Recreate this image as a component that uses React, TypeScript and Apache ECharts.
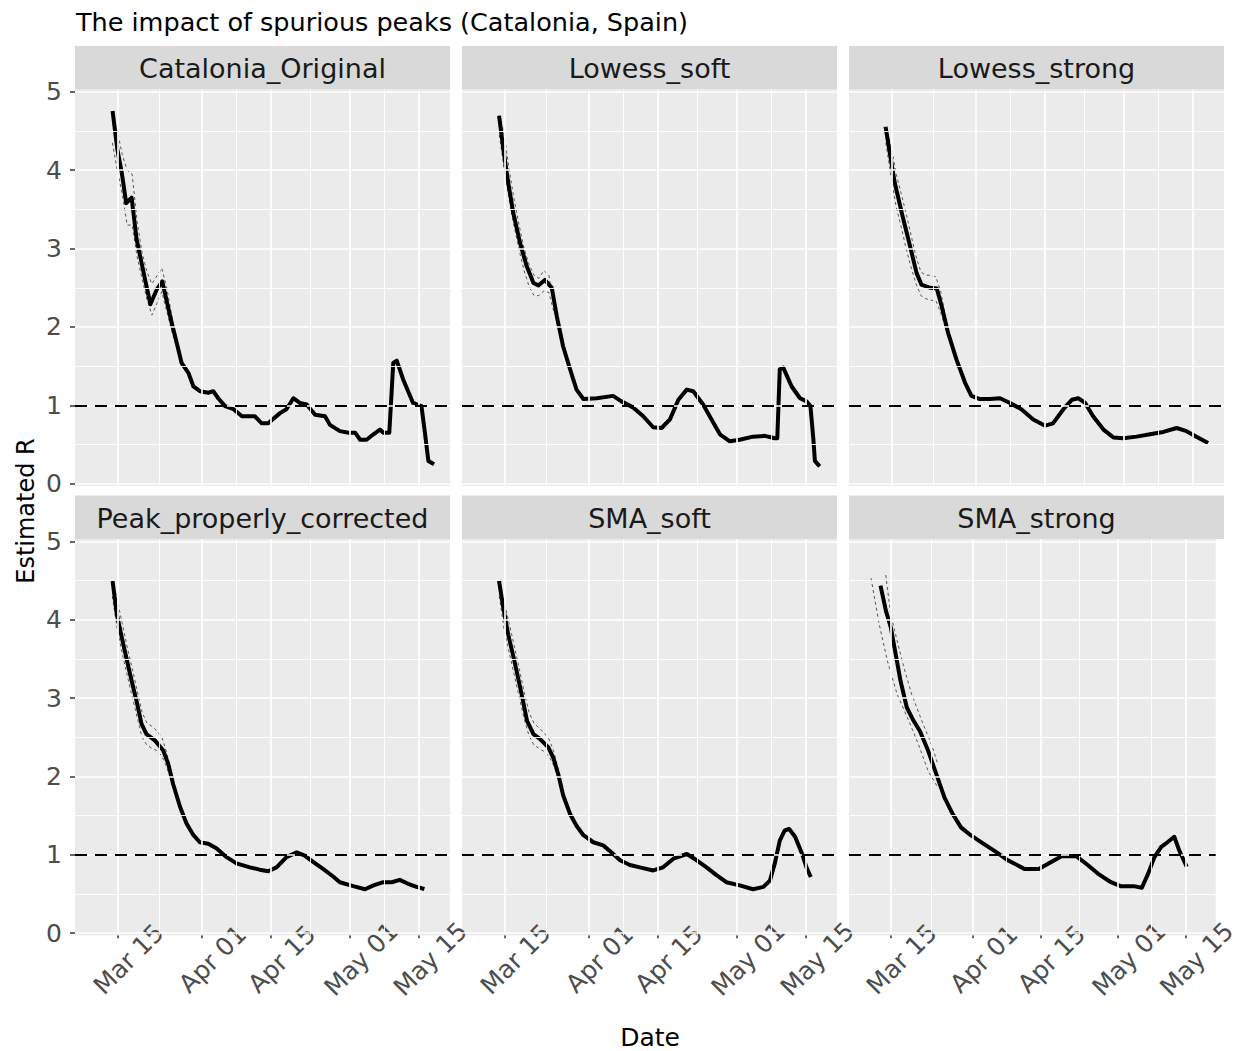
import { useEffect, useRef } from "react";
import * as echarts from "echarts";

// Day numbers: Mar 1 = 1, Apr 1 = 32, May 1 = 62
const panelNames = ["Catalonia_Original", "Lowess_soft", "Lowess_strong", "Peak_properly_corrected", "SMA_soft", "SMA_strong"];
const xTickDays = [15, 32, 46, 62, 76];
const xTickLabels = ["Mar 15", "Apr 01", "Apr 15", "May 01", "May 15"];
const xMinorDays = [23.5, 39, 54, 69];
const yTicks = [0, 1, 2, 3, 4, 5];
const yMinor = [0.5, 1.5, 2.5, 3.5, 4.5];
const referenceR = 1;

const origDays = [14.1, 15, 15.9, 16.8, 17.9, 18.9, 19.9, 20.9, 21.7, 23, 24.1, 25, 26, 27, 28, 29.4, 30.4, 31.7, 33.4, 34.4, 35.4, 36.8, 38.5, 40.2, 42.8, 44.2, 45.5, 47.9, 49.2, 50.6, 51.9, 53.3, 55, 57, 58, 60, 61.8, 63.1, 64.1, 65.4, 66.8, 68.1, 68.8, 70, 70.8, 71.5, 72.8, 74.8, 76.5, 77.2, 77.9, 78.7];
const origR = [4.73, 4.27, 3.97, 3.58, 3.65, 3.12, 2.82, 2.52, 2.29, 2.48, 2.58, 2.33, 2.05, 1.8, 1.54, 1.41, 1.24, 1.18, 1.16, 1.18, 1.09, 0.99, 0.95, 0.86, 0.86, 0.77, 0.77, 0.9, 0.95, 1.09, 1.03, 1.01, 0.88, 0.86, 0.75, 0.67, 0.65, 0.65, 0.56, 0.56, 0.63, 0.69, 0.65, 0.65, 1.54, 1.57, 1.33, 1.03, 0.99, 0.65, 0.29, 0.26];
const origCiDays = [14, 15, 16, 17, 18, 19, 20, 21, 22, 23, 24, 25, 26, 27, 28];
const origHi = [4.75, 4.5, 4.2, 4.0, 3.95, 3.35, 2.95, 2.7, 2.55, 2.65, 2.75, 2.5, 2.15, 1.86, 1.58];
const origLo = [4.35, 4.0, 3.7, 3.3, 3.3, 2.9, 2.62, 2.35, 2.15, 2.3, 2.45, 2.2, 1.95, 1.74, 1.5];

const lsoftDays = [14, 14.8, 15.8, 16.8, 18.2, 19.5, 20.9, 21.9, 23.2, 24.6, 25.6, 26.9, 28.3, 29.6, 31, 33.7, 37, 38.7, 41.1, 43.1, 45.1, 46.8, 48.5, 50.2, 51.9, 53.2, 55.2, 56.9, 58.6, 60.6, 62.6, 65.3, 67.7, 69.7, 70.2, 70.7, 71.4, 73.1, 74.8, 76.1, 76.9, 77.5, 77.8, 78.5];
const lsoftR = [4.67, 4.27, 3.84, 3.46, 3.07, 2.78, 2.56, 2.53, 2.6, 2.5, 2.14, 1.75, 1.46, 1.2, 1.08, 1.09, 1.12, 1.05, 0.97, 0.86, 0.72, 0.71, 0.82, 1.07, 1.2, 1.18, 1.01, 0.82, 0.63, 0.54, 0.56, 0.6, 0.61, 0.58, 0.58, 1.46, 1.48, 1.24, 1.09, 1.05, 0.99, 0.56, 0.29, 0.24];
const lsoftCiDays = [14, 15, 16, 17, 18, 19, 20, 21, 22, 23, 24, 25];
const lsoftHi = [4.7, 4.45, 4.0, 3.62, 3.3, 3.0, 2.8, 2.66, 2.62, 2.72, 2.66, 2.3];
const lsoftLo = [4.45, 4.0, 3.62, 3.28, 2.98, 2.72, 2.52, 2.4, 2.4, 2.46, 2.44, 2.2];

const lstrongDays = [13.9, 14.7, 15.7, 17.1, 18.8, 20.1, 21.1, 22.8, 24.2, 25.2, 26.5, 28.2, 29.9, 31.2, 32.9, 34.9, 37, 39, 41.3, 43.7, 46.1, 47.7, 49.8, 51.5, 52.8, 54.2, 55.8, 57.9, 59.9, 61.9, 64.6, 67.3, 70, 72.7, 74.7, 76.7, 78.7];
const lstrongR = [4.53, 4.22, 3.84, 3.46, 3.03, 2.69, 2.54, 2.5, 2.49, 2.26, 1.92, 1.58, 1.29, 1.12, 1.08, 1.08, 1.09, 1.03, 0.95, 0.82, 0.74, 0.77, 0.95, 1.07, 1.09, 1.03, 0.86, 0.69, 0.59, 0.58, 0.6, 0.63, 0.66, 0.71, 0.67, 0.6, 0.53];
const lstrongCiDays = [13.9, 15, 16, 17, 18, 19, 20, 21, 22, 23, 24, 25, 26];
const lstrongHi = [4.55, 4.3, 3.95, 3.7, 3.45, 3.17, 2.9, 2.7, 2.66, 2.66, 2.64, 2.45, 2.12];
const lstrongLo = [4.35, 3.9, 3.53, 3.28, 3.0, 2.76, 2.55, 2.4, 2.36, 2.34, 2.34, 2.18, 1.98];

const peakDays = [14.1, 14.9, 16.2, 17.6, 18.9, 19.9, 20.9, 22.6, 24.3, 25.3, 26.3, 27.7, 29, 30.4, 31.7, 33.4, 35.1, 37.1, 39.1, 41.8, 43.8, 45.5, 47.2, 49.2, 51.3, 52.9, 54.6, 56.6, 58.7, 60, 62.7, 65.1, 66.8, 68.8, 70.5, 72.1, 73.8, 75.5, 76.7];
const peakR = [4.47, 4.07, 3.69, 3.3, 2.96, 2.67, 2.54, 2.46, 2.33, 2.16, 1.9, 1.61, 1.4, 1.25, 1.16, 1.14, 1.08, 0.97, 0.89, 0.84, 0.81, 0.79, 0.84, 0.97, 1.03, 0.99, 0.91, 0.82, 0.72, 0.65, 0.6, 0.56, 0.61, 0.65, 0.65, 0.68, 0.63, 0.59, 0.57];
const peakCiDays = [14, 15, 16, 17, 18, 19, 20, 21, 22, 23, 24, 25, 26];
const peakHi = [4.5, 4.25, 3.95, 3.65, 3.38, 3.1, 2.82, 2.68, 2.64, 2.58, 2.5, 2.3, 2.04];
const peakLo = [4.3, 3.88, 3.57, 3.29, 3.02, 2.76, 2.5, 2.4, 2.36, 2.33, 2.26, 2.12, 1.92];

const ssoftDays = [14, 14.8, 15.8, 17.2, 18.5, 19.6, 20.9, 22.2, 23.9, 24.9, 25.9, 26.9, 28.3, 29.6, 31, 33, 35, 36.7, 38.4, 40.4, 42.4, 45.1, 47.1, 49.2, 51.9, 53.9, 55.9, 57.9, 59.9, 62.6, 65.3, 67.4, 68.7, 69.7, 70.7, 71.7, 72.6, 73.8, 75.1, 76.1, 76.8];
const ssoftR = [4.47, 4.15, 3.81, 3.43, 3.05, 2.71, 2.54, 2.48, 2.37, 2.24, 2.03, 1.76, 1.52, 1.37, 1.25, 1.16, 1.12, 1.03, 0.93, 0.87, 0.84, 0.8, 0.84, 0.95, 1.01, 0.93, 0.84, 0.74, 0.65, 0.61, 0.56, 0.59, 0.67, 0.89, 1.18, 1.31, 1.33, 1.23, 1.03, 0.84, 0.74];
const ssoftCiDays = [14, 15, 16, 17, 18, 19, 20, 21, 22, 23, 24, 25, 26];
const ssoftHi = [4.5, 4.22, 3.95, 3.67, 3.38, 3.08, 2.82, 2.68, 2.62, 2.56, 2.48, 2.32, 2.07];
const ssoftLo = [4.3, 3.86, 3.58, 3.3, 3.02, 2.74, 2.52, 2.4, 2.36, 2.32, 2.26, 2.14, 1.96];

const sstrongDays = [13.05, 14.1, 15.1, 16.1, 17.1, 18.4, 19.8, 21.1, 22.8, 24.5, 26.2, 27.9, 29.6, 31.6, 34.3, 37, 39.3, 42.7, 45.7, 47.7, 50.4, 53.5, 55.8, 57.9, 60.6, 62.6, 65.3, 67, 68.3, 69.6, 71, 72.3, 73.7, 74.7, 76.1];
const sstrongR = [4.41, 4.11, 3.9, 3.56, 3.22, 2.88, 2.71, 2.58, 2.33, 2.03, 1.73, 1.52, 1.35, 1.25, 1.14, 1.03, 0.93, 0.82, 0.82, 0.89, 0.98, 0.98, 0.87, 0.76, 0.65, 0.6, 0.6, 0.58, 0.76, 0.97, 1.1, 1.16, 1.23, 1.06, 0.87];
const sstrongHiDays = [14.05, 15.07, 16.4, 17.8, 19.4, 21.5, 23.5, 24.8];
const sstrongHi = [4.57, 4.07, 3.73, 3.39, 3.05, 2.71, 2.41, 2.16];
const sstrongLoDays = [11, 12.7, 14.4, 16.4, 18.8, 20.8, 22.8, 24.8];
const sstrongLo = [4.53, 3.94, 3.47, 3.05, 2.71, 2.41, 2.07, 1.86];

const panels = [
  { name: panelNames[0], days: origDays, r: origR, hiDays: origCiDays, hi: origHi, loDays: origCiDays, lo: origLo },
  { name: panelNames[1], days: lsoftDays, r: lsoftR, hiDays: lsoftCiDays, hi: lsoftHi, loDays: lsoftCiDays, lo: lsoftLo },
  { name: panelNames[2], days: lstrongDays, r: lstrongR, hiDays: lstrongCiDays, hi: lstrongHi, loDays: lstrongCiDays, lo: lstrongLo },
  { name: panelNames[3], days: peakDays, r: peakR, hiDays: peakCiDays, hi: peakHi, loDays: peakCiDays, lo: peakLo },
  { name: panelNames[4], days: ssoftDays, r: ssoftR, hiDays: ssoftCiDays, hi: ssoftHi, loDays: ssoftCiDays, lo: ssoftLo },
  { name: panelNames[5], days: sstrongDays, r: sstrongR, hiDays: sstrongHiDays, hi: sstrongHi, loDays: sstrongLoDays, lo: sstrongLo },
];

const zip = (a: number[], b: number[]) => a.map((d, i) => [d, b[i]]);

const FONT = "DejaVu Sans";
const colLefts = [75, 462, 849];
const panelW = 375;
const rowTops = [89.5, 539];
const panelH = 396.5;
const stripH = 43.5;
const xMin = 6.45;
const xMax = 82.27;
const yMin = -0.03;
const yMax = 5.03;

export default function App() {
  const ref = useRef<HTMLDivElement>(null);
  useEffect(() => {
    const chart = echarts.init(ref.current as HTMLDivElement, null, { renderer: "svg" });
    const grids: any[] = [];
    const xAxes: any[] = [];
    const yAxes: any[] = [];
    const series: any[] = [];
    const graphics: any[] = [];

    const gridLines = [
      ...xMinorDays.map((d) => ({ xAxis: d, lineStyle: { width: 0.9 } })),
      ...yMinor.map((v) => ({ yAxis: v, lineStyle: { width: 0.9 } })),
      ...xTickDays.map((d) => ({ xAxis: d, lineStyle: { width: 1.7 } })),
      ...yTicks.map((v) => ({ yAxis: v, lineStyle: { width: 1.7 } })),
    ];

    panels.forEach((p, i) => {
      const col = i % 3;
      const row = Math.floor(i / 3);
      const left = colLefts[col];
      const top = rowTops[row];
      grids.push({ left, top, width: panelW, height: panelH, show: true, backgroundColor: "#EBEBEB", borderWidth: 0 });
      xAxes.push({
        type: "value",
        gridIndex: i,
        min: xMin,
        max: xMax,
        axisLine: { show: false },
        splitLine: { show: false },
        axisTick: { show: row === 1, customValues: xTickDays, length: 5, lineStyle: { color: "#333333", width: 1.5 } },
        axisLabel: {
          show: row === 1,
          customValues: xTickDays,
          rotate: 45,
          align: "center",
          verticalAlign: "middle",
          margin: 35,
          padding: [0, 0, 0, 32],
          color: "#4D4D4D",
          fontSize: 25,
          fontFamily: FONT,
          formatter: (v: number) => {
            const k = xTickDays.indexOf(Math.round(v));
            return k >= 0 ? xTickLabels[k] : "";
          },
        },
      });
      yAxes.push({
        type: "value",
        gridIndex: i,
        min: yMin,
        max: yMax,
        axisLine: { show: false },
        splitLine: { show: false },
        axisTick: { show: col === 0, customValues: yTicks, length: 5, lineStyle: { color: "#333333", width: 1.5 } },
        axisLabel: {
          show: col === 0,
          customValues: yTicks,
          margin: 13,
          color: "#4D4D4D",
          fontSize: 25,
          fontFamily: FONT,
          formatter: (v: number) => String(Math.round(v)),
        },
      });
      const data = zip(p.days, p.r);
      series.push({
        type: "line",
        xAxisIndex: i,
        yAxisIndex: i,
        data,
        showSymbol: false,
        silent: true,
        lineStyle: { opacity: 0, width: 0 },
        markLine: { silent: true, symbol: ["none", "none"], label: { show: false }, lineStyle: { color: "#FFFFFF", type: "solid" }, data: gridLines },
      });
      series.push({
        type: "line",
        xAxisIndex: i,
        yAxisIndex: i,
        data: zip(p.loDays, p.lo),
        showSymbol: false,
        silent: true,
        lineStyle: { color: "#555555", width: 1, type: [3, 3] },
      });
      series.push({
        type: "line",
        xAxisIndex: i,
        yAxisIndex: i,
        data: zip(p.hiDays, p.hi),
        showSymbol: false,
        silent: true,
        lineStyle: { color: "#555555", width: 1, type: [3, 3] },
      });
      series.push({
        type: "line",
        name: p.name,
        xAxisIndex: i,
        yAxisIndex: i,
        data,
        showSymbol: false,
        silent: true,
        lineStyle: { color: "#000000", width: 4, join: "round", cap: "square" },
        markLine: {
          silent: true,
          symbol: ["none", "none"],
          label: { show: false },
          lineStyle: { color: "#000000", width: 2.2, type: [12, 8] },
          data: [{ yAxis: referenceR }],
        },
      });
      graphics.push({
        type: "rect",
        shape: { x: left, y: top - stripH, width: panelW, height: stripH },
        style: { fill: "#D9D9D9" },
        silent: true,
      });
      graphics.push({
        type: "text",
        x: left + panelW / 2,
        y: top - stripH / 2 + 1,
        style: { text: p.name, align: "center", verticalAlign: "middle", fontSize: 27, fill: "#1A1A1A", fontFamily: FONT },
        silent: true,
      });
    });

    graphics.push({
      type: "text",
      x: 26,
      y: 511,
      rotation: Math.PI / 2,
      style: { text: "Estimated R", align: "center", verticalAlign: "middle", fontSize: 24, fill: "#000000", fontFamily: FONT },
      silent: true,
    });
    graphics.push({
      type: "text",
      x: 650,
      y: 1037,
      style: { text: "Date", align: "center", verticalAlign: "middle", fontSize: 25, fill: "#000000", fontFamily: FONT },
      silent: true,
    });

    chart.setOption({
      animation: false,
      backgroundColor: "#FFFFFF",
      title: {
        text: "The impact of spurious peaks (Catalonia, Spain)",
        left: 76,
        top: 9,
        padding: 0,
        textStyle: { fontSize: 25.5, fontWeight: "normal", color: "#000000", fontFamily: FONT },
      },
      grid: grids,
      xAxis: xAxes,
      yAxis: yAxes,
      series,
      graphic: graphics,
    });
    return () => chart.dispose();
  }, []);
  return <div ref={ref} style={{ position: "fixed", left: 0, top: 0, width: 1240, height: 1051 }} />;
}
